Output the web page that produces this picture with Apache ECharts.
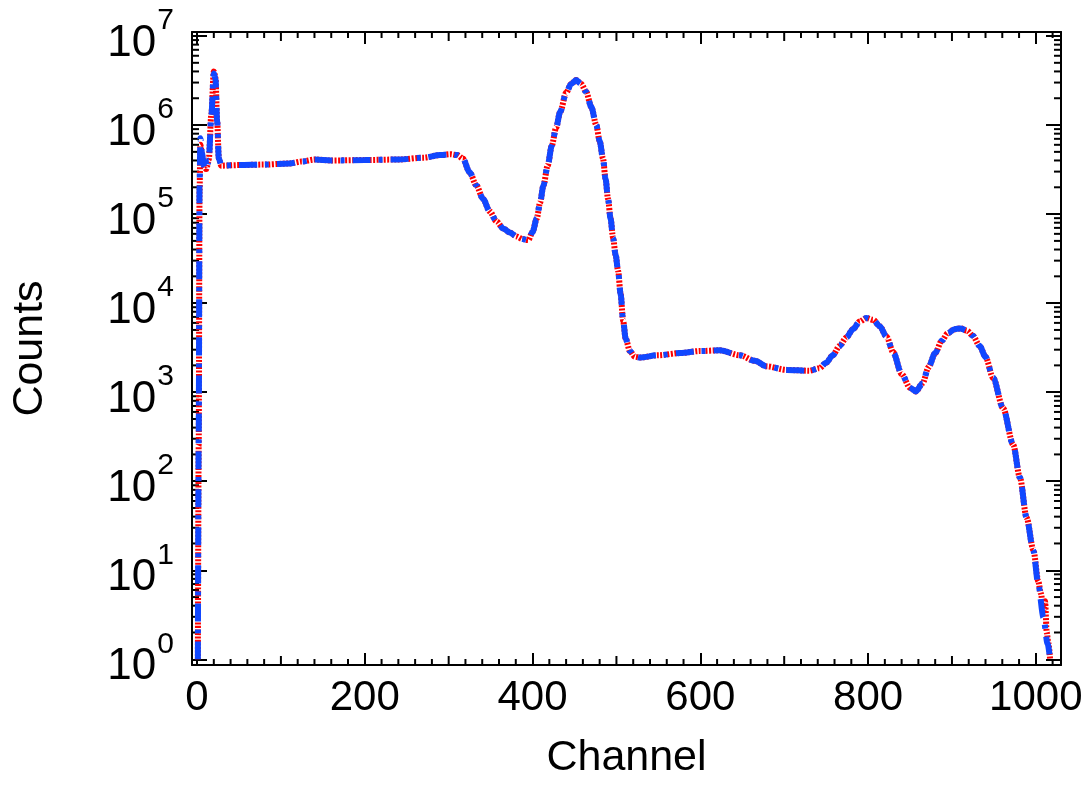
<!DOCTYPE html>
<html><head><meta charset="utf-8">
<script src="https://cdn.jsdelivr.net/npm/echarts@6/dist/echarts.min.js"></script>
<style>html,body{margin:0;padding:0;background:#fff}#c{width:1091px;height:785px}</style>
</head><body><div id="c"></div>
<script>
// ---- data (channel, counts) ----
const fitChannels = [1,2,3,4,6,8,11,14,17,20,22,24,26,29,50,80,110,125,140,160,200,240,270,290,302,310,317,325,333,341,349,357,365,373,381,388,395,400,405,409,413,418,423,428,433,440,446,452,458,464,470,476,480,484,487,490,493,496,499,502,505,508,511,516,522,528,550,576,600,623,647,665,679,703,730,742,750,758,766,774,782,790,798,806,814,822,830,840,850,857,865,872,880,888,895,903,910,918,925,933,940,949,961,973,981,989,997,1003,1009,1014,1017];
const fitCounts = [1,300,2.0e5,7.1e5,4.8e5,3.5e5,3.2e5,4.0e5,1.26e6,3.8e6,3.3e6,1.1e6,4.2e5,3.5e5,3.55e5,3.6e5,3.7e5,3.9e5,4.1e5,4.0e5,4.05e5,4.1e5,4.3e5,4.6e5,4.7e5,4.6e5,4.2e5,2.95e5,2.1e5,1.48e5,1.07e5,8.3e4,6.9e4,6.2e4,5.6e4,5.25e4,5.1e4,6.3e4,8.9e4,1.35e5,2.1e5,3.5e5,5.9e5,9.3e5,1.41e6,2.3e6,2.9e6,3.2e6,2.9e6,2.35e6,1.6e6,1.0e6,6.6e5,4.2e5,2.5e5,1.48e5,8.9e4,5.4e4,3.5e4,2.3e4,1.26e4,6.3e3,4.0e3,2.9e3,2.5e3,2.45e3,2.6e3,2.75e3,2.9e3,2.95e3,2.6e3,2.25e3,1.95e3,1.78e3,1.74e3,1.86e3,2.14e3,2.6e3,3.3e3,4.1e3,5.1e3,6.2e3,6.8e3,6.5e3,5.5e3,4.2e3,2.8e3,1.6e3,1.12e3,1.02e3,1.26e3,1.9e3,2.75e3,3.8e3,4.6e3,5.1e3,5.2e3,4.9e3,4.3e3,3.3e3,2.5e3,1.45e3,660,257,110,39,16.6,6.9,2.95,1.5,1];

const dataChannels = [1,2,3,4,6,8,11,14,17,20,22,24,26,29,50,80,110,125,140,160,200,240,270,290,302,310,317,325,333,341,349,357,365,373,381,388,395,400,405,409,413,418,423,428,433,440,446,452,458,464,470,476,480,484,487,490,493,496,499,502,505,508,511,516,522,528,550,576,600,623,647,665,679,703,730,742,750,758,766,774,782,790,798,806,814,822,830,840,850,857,865,872,880,888,895,903,910,918,925,933,940,949,961,973,981,989,997,1003,1006,1009,1011,1013,1015,1017];
const dataCounts = [1,250,1.8e5,6.0e5,4.6e5,3.5e5,3.2e5,4.1e5,1.3e6,4.0e6,3.4e6,1.1e6,4.2e5,3.5e5,3.55e5,3.6e5,3.7e5,3.9e5,4.1e5,4.0e5,4.05e5,4.1e5,4.3e5,4.6e5,4.7e5,4.6e5,4.2e5,2.95e5,2.1e5,1.48e5,1.07e5,8.3e4,6.9e4,6.2e4,5.6e4,5.25e4,5.1e4,6.3e4,8.9e4,1.35e5,2.1e5,3.5e5,5.9e5,9.3e5,1.41e6,2.3e6,2.9e6,3.2e6,2.9e6,2.35e6,1.6e6,1.0e6,6.6e5,4.2e5,2.5e5,1.48e5,8.9e4,5.4e4,3.5e4,2.3e4,1.26e4,6.3e3,4.0e3,2.9e3,2.5e3,2.45e3,2.6e3,2.75e3,2.9e3,2.95e3,2.6e3,2.25e3,1.95e3,1.78e3,1.74e3,1.86e3,2.14e3,2.6e3,3.3e3,4.1e3,5.1e3,6.2e3,6.8e3,6.5e3,5.5e3,4.2e3,2.8e3,1.6e3,1.12e3,1.02e3,1.26e3,1.9e3,2.75e3,3.8e3,4.6e3,5.1e3,5.2e3,4.9e3,4.3e3,3.3e3,2.5e3,1.45e3,660,257,110,39,17,7.5,5.5,3.5,4.5,2,1.5,1];

// axis ranges / tick labels
const xRange = [-6, 1030];
const yRangeLog = [-0.064, 7.045];   // log10(counts)
const xTickLabels = [0, 200, 400, 600, 800, 1000];
const yDecades = [0, 1, 2, 3, 4, 5, 6, 7];

const FONT = '"Liberation Sans", Arial, Helvetica, sans-serif';

// minor tick positions (x: every 20, medium every 100; y: 2..9 x 10^n)
const minorTicks = [];
for (let v = 20; v < xRange[1]; v += 20) {
  if (v % 200 === 0) continue;
  minorTicks.push([v, yRangeLog[0], v % 100 === 0 ? 1 : 0]);
}
for (const d of yDecades) {
  if (d >= 7) continue;
  for (let k = 2; k <= 9; k++) minorTicks.push([xRange[0], d + Math.log10(k), 2]);
}

const toPts = (xs, ys) => xs.map((x, i) => [x, Math.log10(ys[i])]);

const chart = echarts.init(document.getElementById('c'), null, {renderer: 'canvas'});
const axisLine = {show: true, onZero: false, lineStyle: {color: '#000', width: 2}};
chart.setOption({
  animation: false,
  backgroundColor: '#fff',
  grid: {left: 192, top: 32, width: 869, height: 635},
  xAxis: [{
    type: 'value', min: xRange[0], max: xRange[1], splitNumber: 5, position: 'bottom',
    name: 'Channel', nameLocation: 'middle', nameGap: 72,
    nameTextStyle: {fontFamily: FONT, fontSize: 43, color: '#000'},
    axisLine, splitLine: {show: false},
    axisTick: {inside: true, length: 12, lineStyle: {color: '#000', width: 2}},
    axisLabel: {
      fontFamily: FONT, fontSize: 42, color: '#000', margin: 12,
      formatter: v => xTickLabels.includes(Math.round(v)) && Math.abs(v - Math.round(v)) < 1e-6 ? String(Math.round(v)) : ''
    }
  }, {
    type: 'value', min: xRange[0], max: xRange[1], splitNumber: 5, position: 'top',
    axisLine, splitLine: {show: false}, axisLabel: {show: false},
    axisTick: {inside: true, length: 12, lineStyle: {color: '#000', width: 2}}
  }],
  yAxis: [{
    type: 'value', min: yRangeLog[0], max: yRangeLog[1], splitNumber: 7, position: 'left',
    name: 'Counts', nameLocation: 'middle', nameGap: 140, nameRotate: 90,
    nameTextStyle: {fontFamily: FONT, fontSize: 43, color: '#000'},
    axisLine, splitLine: {show: false},
    axisTick: {inside: true, length: 15, lineStyle: {color: '#000', width: 2}},
    axisLabel: {
      margin: 18, color: '#000',
      formatter: v => {
        const r = Math.round(v);
        return (Math.abs(v - r) < 1e-6 && yDecades.includes(r)) ? '{h| }{b|10}{s|' + r + '}' : '';
      },
      rich: {
        h: {fontFamily: FONT, fontSize: 2, lineHeight: 60, color: '#fff', verticalAlign: 'middle'},
        b: {fontFamily: FONT, fontSize: 44, lineHeight: 44, color: '#000', verticalAlign: 'bottom'},
        s: {fontFamily: FONT, fontSize: 30, lineHeight: 30, color: '#000', verticalAlign: 'top', padding: [0, 0, 0, 1]}
      }
    }
  }, {
    type: 'value', min: yRangeLog[0], max: yRangeLog[1], splitNumber: 7, position: 'right',
    axisLine, splitLine: {show: false}, axisLabel: {show: false},
    axisTick: {inside: true, length: 15, lineStyle: {color: '#000', width: 2}}
  }],
  series: [{
    type: 'custom', silent: true, z: 1,
    data: minorTicks, encode: {x: 0, y: 1},
    renderItem: (params, api) => {
      const cs = params.coordSys;
      const kind = api.value(2);
      const st = {stroke: '#000', lineWidth: 2};
      if (kind < 2) {
        const px = api.coord([api.value(0), yRangeLog[0]])[0];
        const len = kind === 1 ? 9 : 6;
        return {type: 'group', children: [
          {type: 'line', shape: {x1: px, y1: cs.y + cs.height, x2: px, y2: cs.y + cs.height - len}, style: st},
          {type: 'line', shape: {x1: px, y1: cs.y, x2: px, y2: cs.y + len}, style: st}
        ]};
      }
      const py = api.coord([xRange[0], api.value(1)])[1];
      return {type: 'group', children: [
        {type: 'line', shape: {x1: cs.x, y1: py, x2: cs.x + 7, y2: py}, style: st},
        {type: 'line', shape: {x1: cs.x + cs.width, y1: py, x2: cs.x + cs.width - 7, y2: py}, style: st}
      ]};
    }
  }, {
    name: 'data', type: 'line', data: toPts(dataChannels, dataCounts),
    showSymbol: false, smooth: 0.3, smoothMonotone: 'x', z: 2,
    lineStyle: {color: '#ff0000', width: 6, type: [2, 1.5]}
  }, {
    name: 'fit', type: 'line', data: toPts(fitChannels, fitCounts),
    showSymbol: false, smooth: 0.3, smoothMonotone: 'x', z: 3,
    lineStyle: {color: '#1147ff', width: 6, type: [18, 8, 4, 8]}
  }]
});
</script>
</body></html>
